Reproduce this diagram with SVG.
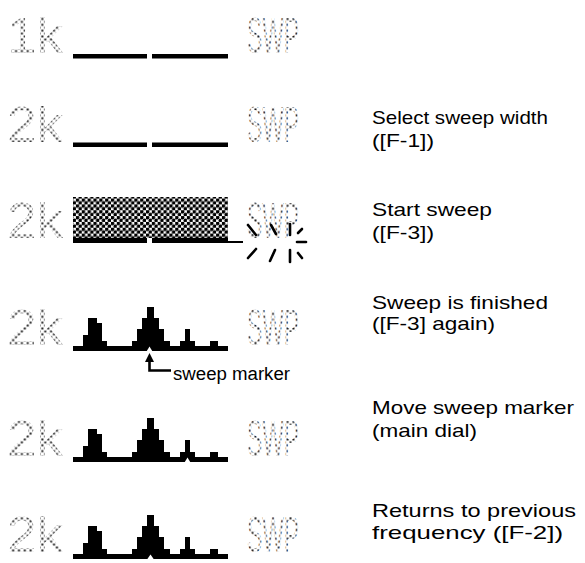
<svg xmlns="http://www.w3.org/2000/svg" width="585" height="563" viewBox="0 0 585 563">
<defs>
<style>
.lcd{font-family:"Liberation Sans",Arial,sans-serif;font-size:50px;fill:url(#dots)}
.lbl{font-family:"Liberation Sans",Arial,sans-serif;font-size:19px;fill:#000}
.bar{fill:#000}
.spk{stroke:#000;stroke-width:2.6;stroke-linecap:round;fill:none}
</style>
<pattern id="dots" width="5.84" height="5.84" patternUnits="userSpaceOnUse">
<rect x="0.45" y="0.45" width="2" height="2" fill="#1a1a1a"/>
<rect x="3.37" y="3.37" width="2" height="2" fill="#1a1a1a"/>
</pattern>
<pattern id="hatch" width="5.84" height="5.84" patternUnits="userSpaceOnUse">
<rect width="5.84" height="5.84" fill="#fff"/>
<circle cx="1.46" cy="1.46" r="1.9" fill="#000"/>
<circle cx="4.38" cy="4.38" r="1.9" fill="#000"/>
</pattern>
<g id="peaks">
<rect x="73" y="0" width="155" height="5"/>
<path d="M83,0 V-11 H88 V-28 H97 V-23 H102 V-5 H107 V0 Z"/>
<path d="M132,0 V-5 H137 V-17 H142 V-28 H147 V-39 H154 V-28 H159 V-17 H164 V-5 H170 V0 Z"/>
<path d="M180,0 V-5 H185 V-17 H190 V-5 H195 V0 Z"/>
<path d="M210,0 V-5 H218 V0 Z"/>
</g>
</defs>
<rect width="585" height="563" fill="#fff"/>

<g id="row1">
<text class="lcd" x="7" y="53" textLength="56" lengthAdjust="spacingAndGlyphs">1k</text>
<rect class="bar" x="73" y="54" width="74" height="4.5"/>
<rect class="bar" x="152" y="54" width="76" height="4.5"/>
<text class="lcd" x="247" y="53" textLength="52" lengthAdjust="spacingAndGlyphs">SWP</text>
</g>

<g id="row2">
<text class="lcd" x="7" y="142" textLength="56" lengthAdjust="spacingAndGlyphs">2k</text>
<rect class="bar" x="73" y="142.5" width="74" height="4.5"/>
<rect class="bar" x="152" y="142.5" width="76" height="4.5"/>
<text class="lcd" x="247" y="142" textLength="52" lengthAdjust="spacingAndGlyphs">SWP</text>
<text class="lbl" x="372" y="124" textLength="176" lengthAdjust="spacingAndGlyphs">Select sweep width</text>
<text class="lbl" x="372" y="147" textLength="62" lengthAdjust="spacingAndGlyphs">([F-1])</text>
</g>

<g id="row3">
<text class="lcd" x="7" y="238" textLength="56" lengthAdjust="spacingAndGlyphs">2k</text>
<rect x="73" y="197" width="155" height="41" fill="url(#hatch)"/>
<rect class="bar" x="73" y="238" width="74" height="5"/>
<rect class="bar" x="152" y="238" width="76" height="5"/>
<rect class="bar" x="228" y="241" width="15" height="2"/>
<text class="lcd" x="247" y="238" textLength="52" lengthAdjust="spacingAndGlyphs">SWP</text>
<g class="spk">
<path d="M248,225 L256,235"/>
<path d="M271,225 L276,234"/>
<path d="M290,224 V235"/>
<path d="M248,258 L256,249"/>
<path d="M270,261 L275,250"/>
<path d="M290,250 V262"/>
<path d="M302,229 L298,233"/>
<path d="M302,258 L298,253"/>
<path d="M297,242 H306"/>
</g>
<text class="lbl" x="372" y="216" textLength="120" lengthAdjust="spacingAndGlyphs">Start sweep</text>
<text class="lbl" x="372" y="239" textLength="62" lengthAdjust="spacingAndGlyphs">([F-3])</text>
</g>

<g id="row4">
<text class="lcd" x="7" y="345" textLength="56" lengthAdjust="spacingAndGlyphs">2k</text>
<use href="#peaks" transform="translate(0,346)"/>
<path d="M146.5,351.5 L149.5,346.5 L152.5,351.5 Z" fill="#fff"/>
<text class="lcd" x="247" y="345" textLength="52" lengthAdjust="spacingAndGlyphs">SWP</text>
<text class="lbl" x="372" y="309" textLength="176" lengthAdjust="spacingAndGlyphs">Sweep is finished</text>
<text class="lbl" x="372" y="330" textLength="123" lengthAdjust="spacingAndGlyphs">([F-3] again)</text>
</g>

<g id="connectors">
<path d="M149.5,353 L145,362 L154,362 Z" fill="#000"/>
<path d="M149.5,360 V370.5 H171" stroke="#000" stroke-width="2.6" fill="none"/>
<text class="lbl" x="173" y="380" textLength="117" lengthAdjust="spacingAndGlyphs" style="font-size:18px">sweep marker</text>
</g>

<g id="row5">
<text class="lcd" x="7" y="456" textLength="56" lengthAdjust="spacingAndGlyphs">2k</text>
<use href="#peaks" transform="translate(0,457)"/>
<path d="M184.5,462.5 L187.5,457.5 L190.5,462.5 Z" fill="#fff"/>
<text class="lcd" x="247" y="456" textLength="52" lengthAdjust="spacingAndGlyphs">SWP</text>
<text class="lbl" x="372" y="414" textLength="202" lengthAdjust="spacingAndGlyphs">Move sweep marker</text>
<text class="lbl" x="372" y="437" textLength="105" lengthAdjust="spacingAndGlyphs">(main dial)</text>
</g>

<g id="row6">
<text class="lcd" x="7" y="552" textLength="56" lengthAdjust="spacingAndGlyphs">2k</text>
<use href="#peaks" transform="translate(0,554)"/>
<path d="M147,559.5 L150.5,554.5 L154,559.5 Z" fill="#fff"/>
<text class="lcd" x="247" y="552" textLength="52" lengthAdjust="spacingAndGlyphs">SWP</text>
<text class="lbl" x="372" y="517" textLength="204" lengthAdjust="spacingAndGlyphs">Returns to previous</text>
<text class="lbl" x="372" y="539" textLength="191" lengthAdjust="spacingAndGlyphs">frequency ([F-2])</text>
</g>
</svg>
